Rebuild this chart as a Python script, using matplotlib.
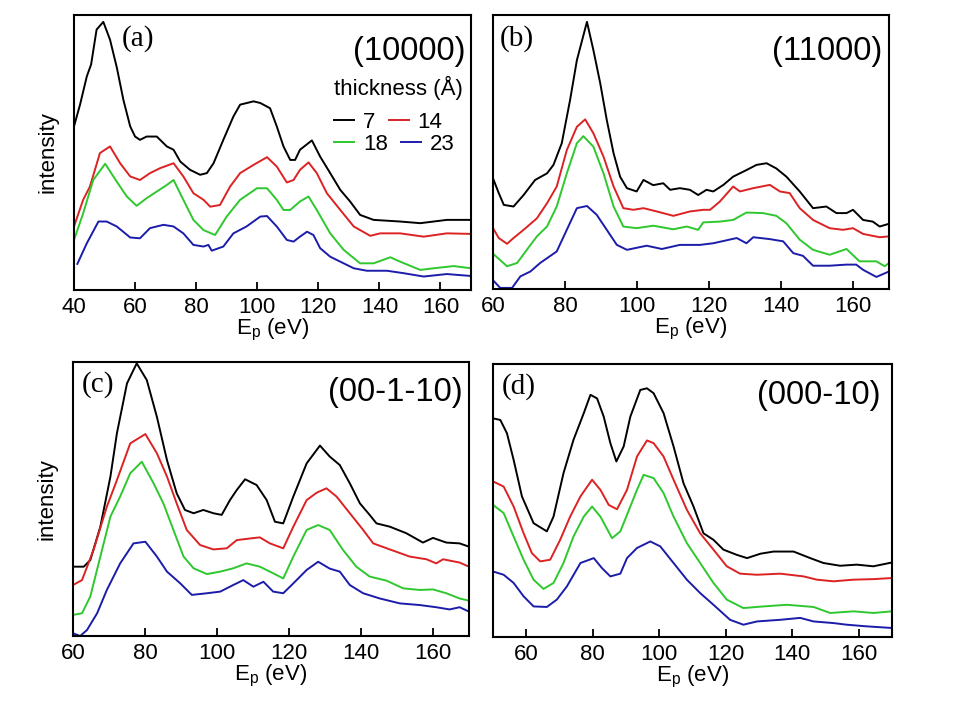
import matplotlib
matplotlib.use("Agg")
import matplotlib.pyplot as plt

plt.rcParams['font.family'] = ['Liberation Sans', 'DejaVu Sans']
plt.rcParams['mathtext.default'] = 'regular'

thickness_labels = ['7', '14', '18', '23']
colors = ['#000000', '#dc2222', '#2ec82e', '#1c1caa']

# ---------------- panel (a) (10000) ----------------
a_x_7 = [40, 42, 44.2, 45.6, 47.4, 49.6, 51.8, 54, 56.2, 58.4, 60, 61.6, 63.8, 67.1, 70.4, 72.6, 74.8, 78,
         81.3, 83.5, 85.7, 88.9, 92.2, 94.4, 98.8, 101, 104.2, 106.4, 108.6, 110.8, 112.4, 114, 117.9,
         120.6, 123.9, 127.2, 130.4, 133.7, 138.1, 146.8, 153.4, 162.1, 170]
a_y_7 = [59.5, 67.5, 77.7, 82.0, 94.7, 97.5, 91, 81, 69, 59.5, 55.8, 54.6, 55.8, 55.8, 52.2, 51, 46.7, 43.7,
         41.9, 42.5, 46.1, 54.6, 63.1, 67.4, 68.6, 68, 66.1, 59.5, 52.2, 47.3, 47.3, 51, 54.4,
         48.5, 42.5, 36.4, 32.2, 27.3, 25.5, 24.9, 24.3, 25.5, 25.5]
a_x_14 = [40, 43, 45.2, 48.5, 51.8, 55.1, 58.4, 61.6, 64.9, 68.2, 72.6, 75.8, 79.1, 82.4, 84.6, 87.8,
          91.1, 94.4, 98.8, 103.2, 106.4, 109.7, 111.9, 114, 116.8, 119.5, 122.8, 127.2, 131.6, 137,
          140.3, 146.8, 154.5, 162.1, 170]
a_y_14 = [23.1, 32.8, 37.6, 49.8, 52.2, 46.1, 41.3, 40, 42.5, 44.3, 46.1, 41.3, 35.2, 32.8, 30.3, 30.9,
          37.6, 42.5, 45.5, 48.3, 44.9, 39.1, 40.0, 43.7, 46.4, 42.5, 35.2, 29.1, 23.1, 19.7,
          20.6, 20.6, 19.4, 20.6, 20.4]
a_x_18 = [40, 43, 46.3, 50.2, 54, 57.3, 60.5, 63.8, 67.1, 70.4, 72.6, 75.8, 79.1, 82.4, 86.2, 90, 94.4,
          99.9, 103.2, 106.4, 108.6, 110.8, 114, 116.8, 119.5, 123.9, 128.3, 133.7, 138.1, 143.6,
          146.8, 153.4, 157.8, 164.3, 170]
a_y_18 = [18.2, 27.9, 40, 45.9, 39.4, 34, 30.6, 33.4, 35.8, 38.2, 40, 32.8, 25.5, 21.8, 20, 26.7, 32.8,
          37, 37, 32.8, 29.1, 29.1, 32.2, 34, 29.1, 20.6, 14.6, 9.7, 9.7, 11.9,
          10.3, 7.3, 7.9, 8.7, 7.9]
a_x_23 = [41.1, 44.2, 48, 50.7, 54, 58.4, 61.6, 64.9, 69.3, 72.6, 75.8, 79.1, 82.4, 84, 85.1, 88.9,
          92.2, 96.5, 101, 103.2, 106.4, 109.7, 111.9, 114, 116.3, 118.4, 120.6, 123.9, 127.2,
          131.6, 135.9, 142.5, 148, 154.5, 162.1, 170]
a_y_23 = [9.5, 17, 24.9, 24.9, 23.1, 19.1, 18.8, 22.5, 23.7, 23.1, 20.6, 16.4, 15.8, 16.4, 14.3, 15.8,
          20.6, 23.1, 26.7, 26.9, 23.1, 18.2, 17.6, 19.4, 21.2, 20, 15.2, 12.1, 10.3,
          7.9, 7, 7, 6.1, 4.9, 5.8, 5.1]

# ---------------- panel (b) (11000) ----------------
b_x_7 = [60, 61.6, 63, 65.7, 68.5, 71.7, 75, 76.8, 79.1, 81.4, 83.3, 86.1, 87.9, 89.8, 91.6, 93.5,
         95.3, 97.2, 99.9, 101.8, 104.5, 107.3, 109.2, 111.9, 114.7, 117, 119.3, 121.2, 124,
         126.7, 130.4, 133.2, 136, 138.7, 141.5, 145.2, 148.9, 152.6, 155.4, 158.2, 160, 162.8,
         165.5, 167.4, 170]
b_y_7 = [40.4, 35, 30.7, 30.1, 34.3, 39.8, 42.2, 45.3, 53.2, 68.9, 83.5, 97.5, 87.1, 75, 61.7, 49.5,
         41, 36.8, 35.6, 39.8, 37.9, 38.6, 36.2, 36.8, 36.2, 34.3, 36.2, 35.6, 38,
         41, 43.4, 45.3, 45.9, 44, 41, 35.6, 29.5, 30.1, 27.7, 27.7, 28.9, 25.2,
         24.6, 22.8, 23.8]
b_x_14 = [60, 61.6, 63.9, 65.7, 68.5, 72.2, 75, 77.7, 80.5, 83.3, 85.6, 87.9, 90.7, 93.5, 96.2, 99,
          101.8, 105.5, 110.1, 114.7, 118.4, 120.3, 123, 126.7, 128.6, 132.3, 136.9, 139.7, 142.4,
          145.2, 148.9, 153.5, 157.2, 160, 162.8, 167.4, 170]
b_y_14 = [22.2, 18.6, 16.5, 18.6, 21.6, 25.8, 31.3, 37.4, 50.7, 59.2, 61.9, 56.8, 48.3, 37.4, 29.5, 28.9,
          29.5, 28.3, 26.7, 28.3, 28.9, 28.9, 31.9, 37.4, 35.6, 36.8, 38, 35.6, 35,
          29.5, 25.2, 22.2, 21.6, 22.2, 20.1, 18.9, 19.2]
b_x_18 = [60, 63.9, 66.7, 69.4, 72.2, 75, 77.7, 80.5, 83.3, 85.1, 87.9, 90.7, 93.5, 96.2, 99.9, 104.5,
          110.1, 113.8, 117, 118.4, 123, 126.7, 130.4, 135, 138.7, 141.5, 145.2, 148.9, 153.5,
          158.2, 161.8, 166.5, 168.8, 170]
b_y_18 = [12.9, 8.3, 9.5, 14.3, 19.2, 22.8, 30.1, 42.2, 53.2, 55.8, 51.9, 42.2, 30.1, 22.8, 22.2, 23.1,
          21.8, 22.8, 21.6, 24.3, 24.6, 25.2, 27.9, 27.7, 26.7, 24, 18, 14.3, 12.5,
          14.6, 10.1, 10.1, 8.3, 9.5]
b_x_23 = [60, 62, 65.3, 67.6, 70.4, 73.1, 77.7, 80.5, 83.3, 86.1, 88.8, 91.6, 94.4, 97.2, 102.7, 106.9,
          111.9, 117.5, 121.2, 127.7, 130.4, 132.3, 136.9, 140.6, 143.4, 146.1, 148.9, 153.5,
          158.2, 160.9, 162.8, 166.5, 170]
b_y_23 = [3.2, 0.4, 0.4, 4.6, 6.4, 9.5, 13.7, 21.6, 29.5, 30.3, 27.1, 21.6, 16.1, 14.3, 15.8, 14.6,
          16.1, 16.1, 16.7, 18.6, 16.7, 18.9, 18.2, 17.4, 13.1, 12.1, 8.5, 8.5,
          8.9, 8.9, 7, 4.4, 6.4]

# ---------------- panel (c) (00-1-10) ----------------
c_x_7 = [60, 63, 64.8, 67.6, 70.4, 72.2, 75, 77.7, 80.5, 83.3, 86.1, 88.8, 91.1, 93.5, 96.2, 99, 101.3,
         103.6, 105.5, 107.8, 111, 113.8, 116.1, 118.4, 121.2, 124.9, 128.6, 131.3, 134.1, 136.9,
         139.7, 142.4, 144.3, 148, 152.6, 157.2, 160, 163.7, 167.4, 170]
c_y_7 = [25.3, 25.3, 27.7, 39.9, 58.2, 74, 92.2, 99.5, 93.4, 80, 64.2, 52.1, 46, 44.8, 46, 44.8, 44.2,
         49.6, 53.3, 57.2, 55.1, 49.6, 41.7, 41.1, 50.9, 63, 69.5, 65.5, 62.4, 55.7,
         48.4, 44.2, 41.1, 39.9, 37.5, 34.1, 35.8, 34.1, 33.8, 32.6]
c_x_14 = [60, 62.5, 65.7, 69.4, 72.2, 75.9, 80.1, 83.3, 86.1, 88.8, 91.6, 95.3, 99, 102.7, 105.5, 109.2,
          111.9, 114.7, 118.4, 121.2, 124.9, 127.7, 130.4, 133.2, 136.9, 140.6, 143.4, 148, 153.5,
          158.2, 160.9, 162.8, 167.4, 170]
c_y_14 = [18.6, 20.4, 31.4, 47.2, 56.9, 70.3, 73.7, 66.7, 58.2, 48.4, 38.7, 33.2, 31.6, 32, 35, 35.6,
          36, 33.8, 32, 39.9, 49.6, 52.3, 53.9, 50.9, 44.8, 38.7, 33.8, 31.6, 29,
          28, 26.5, 28, 26.8, 25.3]
c_x_18 = [60, 62.5, 64.8, 67.6, 70.4, 73.1, 75.9, 79.1, 82.4, 85.1, 87.9, 90.7, 93.5, 97.2, 100.9, 104.5,
          108.2, 111.9, 115.6, 118.4, 121.2, 124.9, 128.1, 131.3, 135, 138.7, 142.4, 147.1, 151.7,
          156.3, 160, 163.7, 167.4, 170]
c_y_18 = [7.7, 8.3, 14.4, 29, 43.6, 50.9, 59.4, 63.6, 55.7, 48.4, 38.7, 29, 24.7, 22.6, 23.5, 24.7,
          26.5, 25.3, 22.9, 21, 29, 38.7, 40.5, 38.7, 31.4, 25.3, 21.7, 20.2, 17.4,
          16.8, 17, 15.6, 13.7, 12.9]
c_x_23 = [60, 62, 63.9, 66.7, 69.4, 73.1, 76.8, 80.1, 83.3, 86.1, 89.8, 93, 97.2, 100.9, 104.5, 107.3,
          110.1, 112.9, 115.6, 118.4, 121.2, 124.9, 128.1, 131.3, 134.1, 136.9, 140.6, 145.2, 150.8,
          156.3, 160.9, 164.6, 167.4, 170]
c_y_23 = [1, 0, 2.2, 8.3, 16.8, 26.5, 33.8, 34.4, 29, 23.5, 19.2, 15, 15.6, 16.2, 18.6, 20.4,
          18, 19.8, 16.2, 15.6, 19.2, 24.1, 27.1, 24.6, 23.5, 18.6, 15.6, 13.7, 11.9,
          11.3, 10.5, 9.7, 10.5, 8.9]

# ---------------- panel (d) (000-10) ----------------
d_x_7 = [50, 52.2, 54.2, 56.2, 58.7, 62.2, 66.2, 68.2, 71.2, 74.2, 77.3, 79.3, 81.3, 83.3, 85.3, 87.1,
         89.3, 91.3, 94.3, 96.3, 98.3, 101.3, 104.3, 107.3, 110.3, 113.3, 116.3, 119.3, 123.3,
         126.4, 130.4, 134.4, 140.4, 145.4, 149.4, 154.4, 159.4, 164.4, 170]
d_y_7 = [80.1, 79.5, 74.6, 64.9, 51.5, 41.7, 38.7, 44.1, 60, 72.2, 82, 88.7, 87.4, 80.7, 71, 64.3,
         69.8, 80.7, 90.5, 91.1, 89.3, 82, 69.8, 56.3, 47.8, 38, 35.6, 32, 30.1,
         28.9, 30.5, 31.3, 31.3, 28.9, 27.1, 26.1, 26.5, 25.9, 27.3]
d_x_14 = [50, 53.2, 56.2, 59.2, 61.7, 64.2, 67.2, 70.2, 73.2, 76.3, 79.8, 82.3, 84.8, 87.3, 90.3, 93.3,
          96.3, 98.3, 101.3, 104.3, 108.3, 112.3, 116.3, 120.3, 124.3, 129.4, 136.4, 143.4, 147.4,
          152.4, 158.4, 164.4, 170]
d_y_14 = [57, 55.1, 47.8, 38, 30.7, 27.7, 28.3, 35.6, 44.1, 51.5, 57.6, 53.9, 48.4, 46.8, 53.9, 66.1,
          72, 71, 66.1, 57.6, 46.6, 38, 32, 25.9, 23.2, 22.8, 23.2, 22.2, 21,
          20.4, 21, 21.2, 21.6]
d_x_18 = [50, 53.2, 56.2, 59.2, 62.2, 65.2, 68.2, 71.2, 74.2, 77.3, 79.8, 82.3, 85.8, 88.3, 91.3, 93.3,
          95.3, 98.3, 101.3, 104.3, 108.3, 112.3, 116.3, 120.3, 125.3, 131.3, 138.4, 146.4, 151.4,
          158.4, 164.4, 170]
d_y_18 = [48.4, 45.4, 36.8, 28.3, 21, 17.6, 19.8, 27.1, 36.8, 44.1, 47.8, 44.1, 36.2, 38.7, 47.8, 53.9,
          59.4, 58.2, 52.7, 44.1, 34.4, 27.1, 19.8, 13.7, 10.6, 11.2, 11.8, 11, 8.8,
          9.4, 8.8, 9.4]
d_x_23 = [50, 53.2, 56.2, 59.2, 62.2, 66.2, 69.2, 72.2, 76.3, 80.3, 82.8, 85.3, 88.3, 90.3, 93.3, 97.3,
          100.3, 104.3, 108.3, 112.3, 116.3, 121.3, 125.3, 129.4, 136.4, 142.4, 146.4, 152.4,
          156.4, 162.4, 170]
d_y_23 = [24, 22.8, 19.8, 14.9, 11.2, 11, 13.7, 18.5, 27.1, 28.9, 25.2, 22.2, 23.2, 28.9, 32.6, 35,
          33.2, 27.1, 21, 16.1, 11.8, 6.3, 4.5, 5.7, 6.3, 7, 5.7, 5.1,
          4.5, 3.9, 3.3]

panel_letters = ['(a)', '(b)', '(c)', '(d)']
panel_planes = ['(10000)', '(11000)', '(00-1-10)', '(000-10)']
panel_xlims = [(40, 170), (60, 170), (60, 170), (50, 170)]
panel_xticks = [[40, 60, 80, 100, 120, 140, 160],
                [60, 80, 100, 120, 140, 160],
                [60, 80, 100, 120, 140, 160],
                [60, 80, 100, 120, 140, 160]]

panel_series = [
    [(a_x_7, a_y_7), (a_x_14, a_y_14), (a_x_18, a_y_18), (a_x_23, a_y_23)],
    [(b_x_7, b_y_7), (b_x_14, b_y_14), (b_x_18, b_y_18), (b_x_23, b_y_23)],
    [(c_x_7, c_y_7), (c_x_14, c_y_14), (c_x_18, c_y_18), (c_x_23, c_y_23)],
    [(d_x_7, d_y_7), (d_x_14, d_y_14), (d_x_18, d_y_18), (d_x_23, d_y_23)],
]

W, H = 954, 715
fig = plt.figure(figsize=(W / 100, H / 100), dpi=100)

# pixel boxes: left, right, top, bottom
boxes = [(74, 471, 15, 290), (493, 889, 15, 289), (73, 469, 362, 636), (493, 892, 364, 637)]
letter_pos = [(0.12, 0.915), (0.018, 0.915), (0.023, 0.916), (0.023, 0.916)]
plane_pos = [(0.985, 0.868), (0.982, 0.868), (0.985, 0.887), (0.97, 0.886)]

for i, (l, r, t, b) in enumerate(boxes):
    ax = fig.add_axes([l / W, 1 - b / H, (r - l) / W, (b - t) / H])
    handles = []
    for (xs, ys), col, lab in zip(panel_series[i], colors, thickness_labels):
        h, = ax.plot(xs, ys, color=col, lw=1.4, label=lab)
        handles.append(h)
    ax.set_xlim(*panel_xlims[i])
    ax.set_ylim(0, 100)
    ax.set_xticks(panel_xticks[i])
    ax.set_yticks([])
    ax.tick_params(axis='x', direction='in', length=6, width=1.3, labelsize=16, pad=5)
    for sp in ax.spines.values():
        sp.set_linewidth(1.5)
    ax.set_xlabel('E$_{p}$ (eV)', fontsize=16, labelpad=-1)
    if i in (0, 2):
        ax.set_ylabel('intensity', fontsize=16, labelpad=11)
    ax.text(letter_pos[i][0], letter_pos[i][1], panel_letters[i], transform=ax.transAxes,
            fontsize=21, family='Liberation Serif', ha='left', va='center')
    ax.text(plane_pos[i][0], plane_pos[i][1], panel_planes[i], transform=ax.transAxes,
            fontsize=23.5, ha='right', va='center')
    if i == 0:
        common = dict(ncol=2, frameon=False, fontsize=16, loc='upper left',
                      handlelength=0.9, handletextpad=0.4, columnspacing=0.6,
                      borderpad=0, borderaxespad=0)
        leg1 = ax.legend(handles[:2], thickness_labels[:2], title='thickness (Å)',
                         title_fontsize=16, bbox_to_anchor=(0.655, 0.777), **common)
        leg1._legend_box.align = 'left'
        ax.add_artist(leg1)
        ax.legend(handles[2:], thickness_labels[2:], bbox_to_anchor=(0.655, 0.568), **common)

fig.savefig('out.png', dpi=100)
